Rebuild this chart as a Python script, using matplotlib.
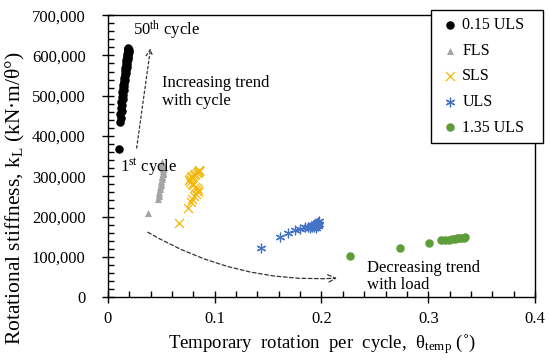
import matplotlib
matplotlib.use("Agg")
import matplotlib.pyplot as plt
from matplotlib.ticker import MultipleLocator, FuncFormatter

plt.rcParams['font.family'] = ['Liberation Serif', 'DejaVu Serif']
plt.rcParams['mathtext.fontset'] = 'custom'
plt.rcParams['mathtext.rm'] = 'Liberation Serif'
plt.rcParams['mathtext.it'] = 'Liberation Serif:italic'

# data (rotation deg, stiffness kN.m/deg)
uls015_x = [0.0103, 0.0112, 0.0125, 0.0118, 0.0130, 0.0122, 0.0134, 0.0127, 0.0138, 0.0131,
            0.0143, 0.0136, 0.0147, 0.0140, 0.0151, 0.0144, 0.0156, 0.0149, 0.0160, 0.0153,
            0.0164, 0.0157, 0.0168, 0.0161, 0.0172, 0.0165, 0.0176, 0.0169, 0.0180, 0.0172,
            0.0183, 0.0175, 0.0186, 0.0178, 0.0189, 0.0181, 0.0191, 0.0184, 0.0193, 0.0186,
            0.0194, 0.0188, 0.0195, 0.0190, 0.0193, 0.0191]
uls015_y = [367000, 434000, 445000, 455000, 462000, 470000, 478000, 485000, 492000, 498000,
            503000, 508000, 513000, 518000, 523000, 527000, 531000, 536000, 540000, 545000,
            549000, 553000, 557000, 561000, 565000, 568000, 572000, 575000, 578000, 582000,
            585000, 588000, 591000, 594000, 596000, 599000, 601000, 603000, 605000, 607000,
            609000, 611000, 613000, 615000, 617000, 619000]

fls_x = [0.0375, 0.0470, 0.0475, 0.0480, 0.0483, 0.0487, 0.0491, 0.0495, 0.0498, 0.0502,
         0.0505, 0.0508, 0.0511, 0.0513, 0.0515, 0.0517, 0.0515, 0.0513, 0.0511, 0.0510,
         0.0509, 0.0508, 0.0507, 0.0507]
fls_y = [208000, 243000, 250000, 256000, 262000, 268000, 274000, 279000, 284000, 289000,
         293000, 297000, 301000, 305000, 309000, 313000, 317000, 320000, 323000, 326000,
         329000, 331000, 333000, 335000]

sls_x = [0.0665, 0.0750, 0.0775, 0.0790, 0.0810, 0.0830, 0.0840, 0.0845, 0.0835, 0.0820,
         0.0800, 0.0785, 0.0770, 0.0760, 0.0765, 0.0775, 0.0790, 0.0805, 0.0820, 0.0835,
         0.0845, 0.0850, 0.0855, 0.0858]
sls_y = [184000, 221000, 236000, 244000, 250000, 255000, 260000, 265000, 270000, 274000,
         278000, 282000, 286000, 290000, 294000, 297000, 300000, 303000, 306000, 308000,
         310000, 312000, 314000, 316000]

uls_x = [0.1430, 0.1610, 0.1690, 0.1750, 0.1800, 0.1845, 0.1875, 0.1895, 0.1905, 0.1915,
         0.1925, 0.1930, 0.1940, 0.1945, 0.1950, 0.1955, 0.1960, 0.1965, 0.1970, 0.1975,
         0.1980, 0.1950, 0.1965]
uls_y = [122000, 149000, 160000, 166000, 170000, 173000, 174000, 172000, 176000, 173000,
         178000, 175000, 180000, 177000, 182000, 178000, 184000, 180000, 186000, 182000,
         188000, 172000, 176000]

uls135_x = [0.2265, 0.2735, 0.3007, 0.3120, 0.3160, 0.3190, 0.3220, 0.3250, 0.3270, 0.3290,
            0.3310, 0.3330, 0.3340]
uls135_y = [102000, 121000, 134000, 141000, 142000, 143000, 144000, 145000, 146000, 146000,
            147000, 147000, 148000]

fig = plt.figure(figsize=(5.5, 3.61), dpi=100)
ax = fig.add_axes([0.196, 0.177, 0.777, 0.781])

ax.scatter(uls015_x, uls015_y, s=26, color='black', marker='o', label='0.15 ULS', zorder=3)
ax.scatter(fls_x, fls_y, s=26, color='#A5A5A5', marker='^', linewidths=0, label='FLS', zorder=3)
ax.scatter(sls_x, sls_y, s=42, color='#F2B705', marker='x', linewidths=0.9, label='SLS', zorder=3)
ax.scatter(uls_x, uls_y, s=40, color='#4472C4', marker=(6, 2, 0), linewidths=0.9, label='ULS', zorder=3)
ax.scatter(uls135_x, uls135_y, s=26, color='#5E9E3A', marker='o', label='1.35 ULS', zorder=3)

ax.set_xlim(0, 0.4)
ax.set_ylim(0, 700000)
ax.xaxis.set_major_locator(MultipleLocator(0.1))
ax.xaxis.set_minor_locator(MultipleLocator(0.02))
ax.yaxis.set_major_locator(MultipleLocator(100000))
ax.yaxis.set_minor_locator(MultipleLocator(20000))
ax.xaxis.set_major_formatter(FuncFormatter(lambda v, p: '0' if v == 0 else f'{v:g}'))
ax.yaxis.set_major_formatter(FuncFormatter(lambda v, p: f'{int(v):,}'))
ax.tick_params(which='major', direction='inout', length=8, width=1, labelsize=12)
ax.tick_params(axis='y', which='major', pad=12)
ax.tick_params(axis='x', which='major', pad=6)
ax.tick_params(which='minor', direction='in', length=4, width=1)
for s in ax.spines.values():
    s.set_linewidth(1)

ax.set_xlabel('Temporary  rotation  per  cycle,  θ$_{\\mathrm{temp}}$ (˚)', fontsize=13.5, labelpad=4)
ax.set_ylabel('Rotational stiffness, k$_{\\mathrm{L}}$ (kN·m/θ°)', fontsize=15.5)
ax.yaxis.set_label_coords(-0.19, 0.35)

# annotations
ax.text(0.0234, 662000, '50$^{\\mathrm{th}}$ cycle', fontsize=12, va='center')
ax.text(0.0506, 509000, 'Increasing trend\nwith cycle', fontsize=12, va='center', linespacing=1.1)
ax.text(0.011, 323000, '1$^{\\mathrm{st}}$ cycle', fontsize=12, va='center')
ax.text(0.2426, 52000, 'Decreasing trend\nwith load', fontsize=12, va='center', linespacing=1.1)

ax.annotate('', xy=(0.040, 618000), xytext=(0.027, 370000),
            arrowprops=dict(arrowstyle='->', linestyle=(0, (2, 2)), lw=0.9, color='#333333',
                            mutation_scale=12, shrinkA=0, shrinkB=0))
ax.annotate('', xy=(0.2145, 47000), xytext=(0.0375, 161000),
            arrowprops=dict(arrowstyle='->', linestyle=(0, (3, 2)), lw=0.9, color='#333333',
                            mutation_scale=14, shrinkA=0, shrinkB=0,
                            connectionstyle='arc3,rad=0.15'))

leg = ax.legend(loc='upper left', bbox_to_anchor=(0.784, 0.598, 0.203, 0.374),
                bbox_transform=fig.transFigure, mode='expand',
                borderaxespad=0, fontsize=11.5, frameon=True, fancybox=False, edgecolor='black',
                framealpha=1, handletextpad=0.0, handlelength=1.5, labelspacing=0.6,
                borderpad=0.45, scatterpoints=1)
leg.get_frame().set_linewidth(1)
leg.set_zorder(5)

fig.savefig('out.png', dpi=100)
